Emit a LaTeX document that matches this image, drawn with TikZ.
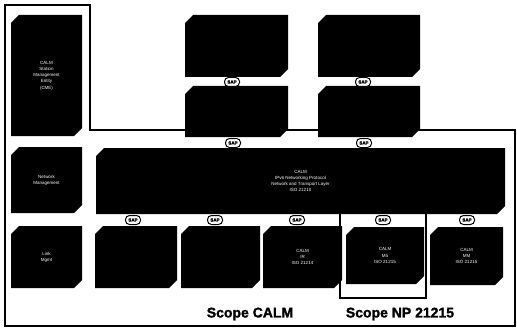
\documentclass[tikz,border=0pt]{standalone}
\usepackage{fontspec}
\setmainfont{Liberation Sans}[BoldFeatures={FakeBold=1.5}]
\begin{document}
\begin{tikzpicture}[x=1pt,y=-1pt]
\tikzset{
  lbl/.style={text=white, font=\fontsize{4.5}{5.2}\selectfont, align=center, inner sep=0pt},
  sap/.style={draw=black, line width=1pt, fill=white, rounded corners=4pt, minimum width=15pt, minimum height=9pt, inner sep=0pt, font=\fontsize{4.5}{5}\selectfont\bfseries},
  frame/.style={line width=1.6pt, draw=black},
  scope/.style={font=\fontsize{14}{16}\selectfont\bfseries, inner sep=0pt}
}
\newcommand\chbox[6]{%
  \fill[black] ({#1+8},#2) -- (#3,#2) -- (#3,{#4-8}) -- ({#3-8},#4) -- (#1,#4) -- (#1,{#2+8}) -- cycle;
  \node[lbl] (#5) at ({(#1+#3)/2},{(#2+#4)/2}) {#6};}
\useasboundingbox (0,0) rectangle (517,329);
\fill[white] (0,0) rectangle (517,329);
% outer frame
\draw[frame] (5,5) -- (90,5) -- (90,130) -- (515,130) -- (515,326) -- (5,326) -- cycle;
% scope NP 21215 frame
\draw[line width=1.2pt] (340,212) -- (340,298) -- (426,298) -- (426,212);
% left column
\chbox{11}{15}{82}{136}{cme}{CALM\\[1pt]Station\\[1pt]Management\\[1pt]Entity\\[1pt](CME)}
\chbox{11}{147}{82}{213}{mgmt}{Network\\[1pt]Management}
\chbox{11}{226}{82}{288}{lower}{Link\\[1pt]Mgmt}
% top boxes
\chbox{185}{15}{288}{77}{appA}{}
\chbox{185}{86}{288}{137}{svcA}{}
\chbox{318}{15}{420}{77}{appB}{}
\chbox{318}{86}{420}{137}{svcB}{}
% middle box
\chbox{96}{148}{505}{214}{net}{CALM\\[1pt]IPv6 Networking Protocol\\[1pt]Network and Transport Layer\\[1pt]ISO 21210}
% bottom boxes
\chbox{95}{226}{177}{288}{g2}{}
\chbox{181}{226}{260}{288}{g3}{}
\chbox{263}{226}{342}{288}{ir}{CALM\\[1pt]IR\\[1pt]ISO 21214}
\chbox{346}{227}{424}{284}{mfive}{CALM\\[1pt]M5\\[1pt]ISO 21215}
\chbox{430}{227}{503}{285}{mm}{CALM\\[1pt]MM\\[1pt]ISO 21215}
% SAP badges
\node[sap] (s1) at (232,82) {SAP};
\node[sap] (s2) at (363,82) {SAP};
\node[sap] (s3) at (233,143) {SAP};
\node[sap] (s4) at (364,143) {SAP};
\node[sap] (s5) at (133,220) {SAP};
\node[sap] (s6) at (215,220) {SAP};
\node[sap] (s7) at (297,220) {SAP};
\node[sap] (s8) at (383,220) {SAP};
\node[sap] (s9) at (467,220) {SAP};
% scope labels
\node[scope] (sc1) at (250,314) {Scope CALM};
\node[scope] (sc2) at (400,314) {Scope NP 21215};
\end{tikzpicture}
\end{document}
